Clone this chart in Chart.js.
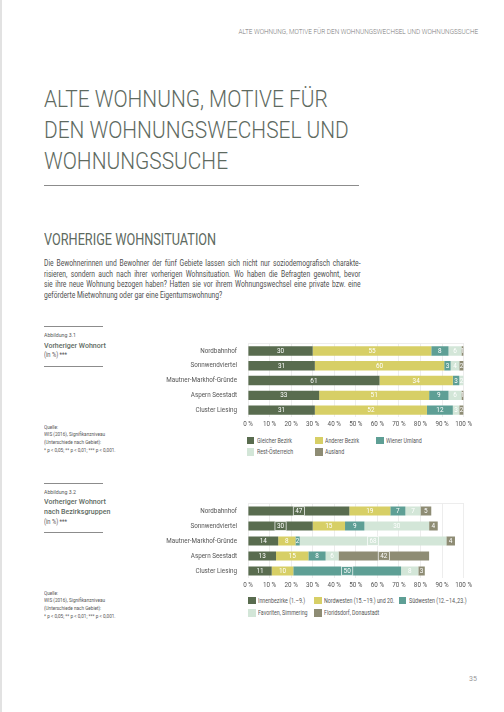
<!DOCTYPE html>
<html>
<head>
<meta charset="utf-8">
<script src="https://cdn.jsdelivr.net/npm/chart.js@4.4.1/dist/chart.umd.min.js"></script>
<style>
  body { margin: 0; width: 504px; height: 712px; background: #fff; position: relative; overflow: hidden; font-family: Roboto, sans-serif; }
  .edge { position: absolute; left: 0; top: 0; width: 2px; height: 712px; background: #e2e2e2; }
  .t { position: absolute; white-space: nowrap; line-height: 1; transform-origin: 0 0; }
  .rule { position: absolute; height: 1px; background: #8c8c8c; }
  .head { right: 26px; top: 29px; font-size: 6.6px; font-weight: 300; color: #7a7a7a; transform-origin: 100% 0; transform: scaleX(0.97); }
  .title { left: 44px; font-size: 24px; font-weight: 300; color: #5e6a5f; transform: scaleX(0.87); }
  .sect { left: 44px; top: 232px; font-size: 16.5px; color: #5e6a5f; transform: scaleX(0.77); }
  .body { left: 44px; width: 386px; font-size: 8.2px; color: #505050; text-align: justify; text-align-last: justify; transform: scaleX(0.82); }
  .body.last { text-align-last: left; }
  .abb { left: 44px; font-size: 5.8px; color: #555; transform: scaleX(0.9); }
  .fig { left: 44px; font-size: 8px; font-weight: 500; color: #5e6a5f; transform: scaleX(0.88); }
  .unit { left: 44px; font-size: 6.4px; color: #555; transform: scaleX(0.9); }
  .src { left: 44px; font-size: 5.6px; color: #555; transform: scaleX(0.83); }
  .page { left: 469px; top: 676px; font-size: 7px; color: #999; }
  canvas { position: absolute; }
  .leg { position: absolute; font-size: 6.3px; color: #555; white-space: nowrap; line-height: 1; }
  .leg span { display: inline-block; transform: scaleX(0.84); transform-origin: 0 0; }
  .leg i { position: absolute; left: -10px; top: -1px; width: 7.5px; height: 7.5px; }
</style>
</head>
<body>
<div class="edge"></div>
<div class="t head">ALTE WOHNUNG, MOTIVE FÜR DEN WOHNUNGSWECHSEL UND WOHNUNGSSUCHE</div>

<div class="t title" style="top:87px">ALTE WOHNUNG, MOTIVE FÜR</div>
<div class="t title" style="top:118px">DEN WOHNUNGSWECHSEL UND</div>
<div class="t title" style="top:149px">WOHNUNGSSUCHE</div>
<div class="rule" style="left:44px; top:185px; width:315px"></div>

<div class="t sect">VORHERIGE WOHNSITUATION</div>
<div class="t body" style="top:259px">Die Bewohnerinnen und Bewohner der fünf Gebiete lassen sich nicht nur soziodemografisch charakte-</div>
<div class="t body" style="top:269.5px">risieren, sondern auch nach ihrer vorherigen Wohnsituation. Wo haben die Befragten gewohnt, bevor</div>
<div class="t body" style="top:280px">sie ihre neue Wohnung bezogen haben? Hatten sie vor ihrem Wohnungswechsel eine private bzw. eine</div>
<div class="t body last" style="top:290.5px">geförderte Mietwohnung oder gar eine Eigentumswohnung?</div>

<div class="rule" style="left:44px; top:326px; width:59px"></div>
<div class="t abb" style="top:333px">Abbildung 3.1</div>
<div class="t fig" style="top:341.7px">Vorheriger Wohnort</div>
<div class="t unit" style="top:352px">(in %) ***</div>
<div class="rule" style="left:44px; top:366px; width:59px"></div>
<div class="t src" style="top:424.5px">Quelle:</div>
<div class="t src" style="top:432.2px">WIS (2016), Signifikanzniveau</div>
<div class="t src" style="top:439.9px">(Unterschiede nach Gebiet):</div>
<div class="t src" style="top:447.9px">* p &lt; 0,05; ** p &lt; 0,01; *** p &lt; 0,001.</div>

<canvas id="chart1" width="325" height="101" style="left:150px; top:330px; width:325px; height:101px"></canvas>
<div id="legend1"></div>

<div class="rule" style="left:44px; top:482.5px; width:59px"></div>
<div class="t abb" style="top:489.5px">Abbildung 3.2</div>
<div class="t fig" style="top:498.3px">Vorheriger Wohnort</div>
<div class="t fig" style="top:508.3px">nach Bezirksgruppen</div>
<div class="t unit" style="top:519.3px">(in %) ***</div>
<div class="rule" style="left:44px; top:531.5px; width:59px"></div>
<div class="t src" style="top:590.5px">Quelle:</div>
<div class="t src" style="top:597.9px">WIS (2016), Signifikanzniveau</div>
<div class="t src" style="top:605.5px">(Unterschiede nach Gebiet):</div>
<div class="t src" style="top:613.9px">* p &lt; 0,05; ** p &lt; 0,01; *** p &lt; 0,001.</div>

<canvas id="chart2" width="325" height="102" style="left:150px; top:490px; width:325px; height:102px"></canvas>
<div id="legend2"></div>

<div class="t page">35</div>

<script>
  var areas = ['Nordbahnhof', 'Sonnwendviertel', 'Mautner-Markhof-Gründe', 'Aspern Seestadt', 'Cluster Liesing']
  var tickLabels = ['0 %', '10 %', '20 %', '30 %', '40 %', '50 %', '60 %', '70 %', '80 %', '90 %', '100 %']
  var colors = ['#596c4f', '#d7cf66', '#5e9f95', '#d3e6d8', '#8e8c74']

  // Abbildung 3.1
  var wohnortNames = ['Gleicher Bezirk', 'Anderer Bezirk', 'Wiener Umland', 'Rest-Österreich', 'Ausland']
  var gleicherBezirk = [30, 31, 61, 33, 31]
  var andererBezirk = [55, 60, 34, 51, 52]
  var wienerUmland = [8, 3, 3, 9, 12]
  var restOesterreich = [6, 4, 2, 6, 3]
  var ausland = [1, 2, 0, 1, 2]

  // Abbildung 3.2
  var gruppenNames = ['Innenbezirke (1.–9.)', 'Nordwesten (15.–19.) und 20.', 'Südwesten (12.–14.,23.)', 'Favoriten, Simmering', 'Floridsdorf, Donaustadt']
  var innenbezirke = [47, 30, 14, 13, 11]
  var nordwesten = [19, 15, 8, 15, 10]
  var suedwesten = [7, 9, 2, 8, 50]
  var favoriten = [7, 30, 68, 6, 8]
  var floridsdorf = [5, 4, 4, 42, 3]
  // Bezirksgruppe, in der das Gebiet liegt (Label mit Rahmen)
  var eigeneGruppe = [0, 0, 3, 4, 2]

  var barLabels = {
    id: 'barLabels',
    afterDatasetsDraw: function(chart, args, opts) {
      var ctx = chart.ctx
      ctx.save()
      ctx.font = '6.4px Roboto'
      ctx.textAlign = 'center'
      ctx.textBaseline = 'middle'
      ctx.fillStyle = '#fff'
      ctx.strokeStyle = '#fff'
      ctx.lineWidth = 0.7
      chart.data.datasets.forEach(function(ds, i) {
        chart.getDatasetMeta(i).data.forEach(function(bar, j) {
          var v = ds.data[j]
          if (!v) return
          var x = (bar.x + bar.base) / 2
          ctx.fillText(String(v), x, bar.y + 0.4)
          if (opts.boxed && opts.boxed[j] === i) {
            var w = ctx.measureText(String(v)).width + 4
            ctx.strokeRect(x - w / 2, bar.y - 4.3, w, 8.6)
          }
        })
      })
      ctx.restore()
    }
  }

  function drawChart(id, names, series, barPct, boxed) {
    return new Chart(document.getElementById(id), {
      type: 'bar',
      data: {
        labels: areas,
        datasets: series.map(function(d, i) {
          return { label: names[i], data: d, backgroundColor: colors[i], borderWidth: 0,
                   barPercentage: barPct, categoryPercentage: 1 }
        })
      },
      options: {
        indexAxis: 'y',
        responsive: false,
        animation: false,
        layout: { padding: { top: 5.6, right: 10, left: 0, bottom: 0 } },
        plugins: { legend: { display: false }, tooltip: { enabled: false }, barLabels: { boxed: boxed } },
        scales: {
          x: {
            stacked: true, min: 0, max: 100,
            ticks: { stepSize: 10, autoSkip: false, maxRotation: 0, padding: 3, color: '#555',
                     font: { family: 'Roboto', size: 6.3 },
                     callback: function(v, i) { return tickLabels[i] } },
            grid: { color: '#e8e8e8', lineWidth: 0.8, drawTicks: false },
            border: { display: false }
          },
          top: {
            axis: 'x', position: 'top', min: 0, max: 100,
            ticks: { display: false }, grid: { display: false },
            border: { display: true, color: '#e8e8e8', width: 0.8 }
          },
          y: {
            stacked: true,
            ticks: { padding: 3, color: '#555', font: { family: 'Roboto', size: 6.3 } },
            grid: { display: false },
            border: { display: false },
            afterFit: function(s) { s.width = 98 }
          }
        }
      },
      plugins: [barLabels]
    })
  }

  function drawLegend(id, names, lefts, tops) {
    var box = document.getElementById(id)
    names.forEach(function(n, i) {
      var d = document.createElement('div')
      d.className = 'leg'
      d.style.left = (lefts[i % 3] + 10) + 'px'
      d.style.top = tops[Math.floor(i / 3)] + 'px'
      d.innerHTML = '<i style="background:' + colors[i] + '"></i><span>' + n + '</span>'
      box.appendChild(d)
    })
  }

  drawChart('chart1', wohnortNames, [gleicherBezirk, andererBezirk, wienerUmland, restOesterreich, ausland], 0.63, null)
  drawChart('chart2', gruppenNames, [innenbezirke, nordwesten, suedwesten, favoriten, floridsdorf], 0.6, eigeneGruppe)
  drawLegend('legend1', wohnortNames, [246.5, 315, 376], [437.5, 449])
  drawLegend('legend2', gruppenNames, [248, 314, 398.5], [597.5, 610])
</script>
</body>
</html>
